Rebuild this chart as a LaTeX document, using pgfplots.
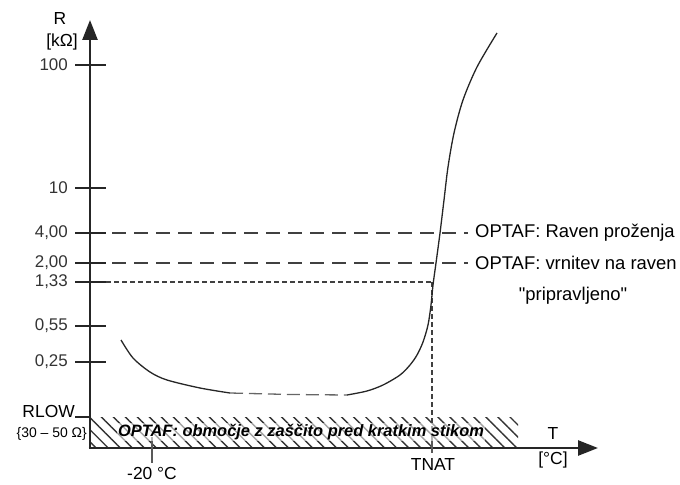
\documentclass[border=0pt]{standalone}
\usepackage{fontspec}
\setmainfont{Liberation Sans}
\usepackage{pgfplots}
\pgfplotsset{compat=1.18}
\usetikzlibrary{patterns.meta,arrows.meta}
\definecolor{ink}{gray}{0.15}
\definecolor{dashcol}{gray}{0.25}
\begin{document}
\begin{tikzpicture}
\begin{axis}[width=680bp,height=484bp,scale only axis,
  xmin=0,xmax=680,ymin=0,ymax=484,axis lines=none,clip=false]
% hatched short-circuit region
\addplot[draw=none,pattern={Lines[angle=-45,distance=8.5bp,line width=1.4bp]},pattern color=black!80]
  coordinates {(90,36) (518,36) (518,67) (90,67)} -- cycle;
% dashed reference lines
\addplot[dashcol,line width=1.5bp,dash pattern=on 14bp off 8bp] coordinates {(90,251) (468,251)};
\addplot[dashcol,line width=1.5bp,dash pattern=on 14bp off 8bp] coordinates {(90,221) (468,221)};
\addplot[dashcol,line width=1.1bp,dash pattern=on 5bp off 3bp] coordinates {(90,202) (432,202)};
\addplot[dashcol,line width=1.1bp,dash pattern=on 5bp off 3bp] coordinates {(432,202) (432,36)};
% curve
\addplot[ink,line width=1.3bp,smooth] coordinates {(121,144) (133,126) (150,112) (167,104) (200,96) (230,91)};
\addplot[gray!80!black,line width=1.3bp,dash pattern=on 13bp off 6bp] coordinates {(230,91) (290,89.5) (347,89)};
\addplot[ink,line width=1.3bp,smooth] coordinates {(347,89) (367,93) (383,99) (400,109) (410,119) (417,129) (423,142) (428,159) (431,179) (433,199) (436,221) (440,251) (444,284) (448,317) (454,351) (463,384) (477,417) (497,451)};
% axes
\addplot[black!85,line width=2.6bp,-{Triangle[length=20bp,width=15bp]}] coordinates {(90,36) (90,464)};
\addplot[black!85,line width=2.6bp,-{Triangle[length=20bp,width=15bp]}] coordinates {(88.7,36) (598,36)};
% y ticks
\addplot[black!85,line width=1.5bp] coordinates {(75,419) (106,419)};
\addplot[black!85,line width=1.5bp] coordinates {(75,296) (106,296)};
\addplot[black!85,line width=1.5bp] coordinates {(75,251) (106,251)};
\addplot[black!85,line width=1.5bp] coordinates {(75,221) (106,221)};
\addplot[black!85,line width=1.5bp] coordinates {(75,202) (106,202)};
\addplot[black!85,line width=1.5bp] coordinates {(75,158) (106,158)};
\addplot[black!85,line width=1.5bp] coordinates {(75,122) (106,122)};
\addplot[black!85,line width=1.5bp] coordinates {(75,67) (90,67)};
% x ticks
\addplot[gray!70!black,line width=1.3bp] coordinates {(152,47) (152,21)};
\addplot[gray!70!black,line width=1.3bp] coordinates {(432,47) (432,31)};
% labels
\begin{scope}[font=\fontsize{17}{19}\selectfont,text=black!80]
\node[anchor=east,inner sep=0pt] at (axis cs:68,419) {100};
\node[anchor=east,inner sep=0pt] at (axis cs:68,296) {10};
\node[anchor=east,inner sep=0pt] at (axis cs:68,251) {4,00};
\node[anchor=east,inner sep=0pt] at (axis cs:68,221) {2,00};
\node[anchor=east,inner sep=0pt] at (axis cs:68,202) {1,33};
\node[anchor=east,inner sep=0pt] at (axis cs:68,158) {0,55};
\node[anchor=east,inner sep=0pt] at (axis cs:68,122) {0,25};
\end{scope}
\begin{scope}[font=\fontsize{17.5}{19}\selectfont,text=black]
\node[inner sep=0pt] at (axis cs:60,465) {R};
\node[inner sep=0pt] at (axis cs:62,442) {[kΩ]};
\node[anchor=base east,inner sep=0pt] at (axis cs:75,67) {RLOW};
\node[anchor=base,inner sep=0pt] at (axis cs:152,5) {-20 °C};
\node[inner sep=0pt] at (axis cs:433,20) {TNAT};
\node[inner sep=0pt] at (axis cs:553,51) {T};
\node[inner sep=0pt] at (axis cs:553,24) {[°C]};
\end{scope}
\node[anchor=east,inner sep=0pt,font=\fontsize{14}{16}\selectfont] at (axis cs:87,50) {\{30 – 50 Ω\}};
\node[inner sep=1pt,fill=white,fill opacity=0.55,text opacity=1,font=\fontsize{16.5}{18}\selectfont\bfseries\itshape] at (axis cs:301,52) {OPTAF: območje z zaščito pred kratkim stikom};
\begin{scope}[font=\fontsize{18.5}{20}\selectfont]
\node[anchor=west,inner sep=0pt] at (axis cs:475,251) {OPTAF: Raven proženja};
\node[anchor=west,inner sep=0pt] at (axis cs:475,221) {OPTAF: vrnitev na raven};
\node[inner sep=0pt] at (axis cs:573,188) {\textquotedbl pripravljeno\textquotedbl};
\end{scope}
\end{axis}
\pgfresetboundingbox
\path (current axis.south west) rectangle (current axis.north east);
\end{tikzpicture}
\end{document}
